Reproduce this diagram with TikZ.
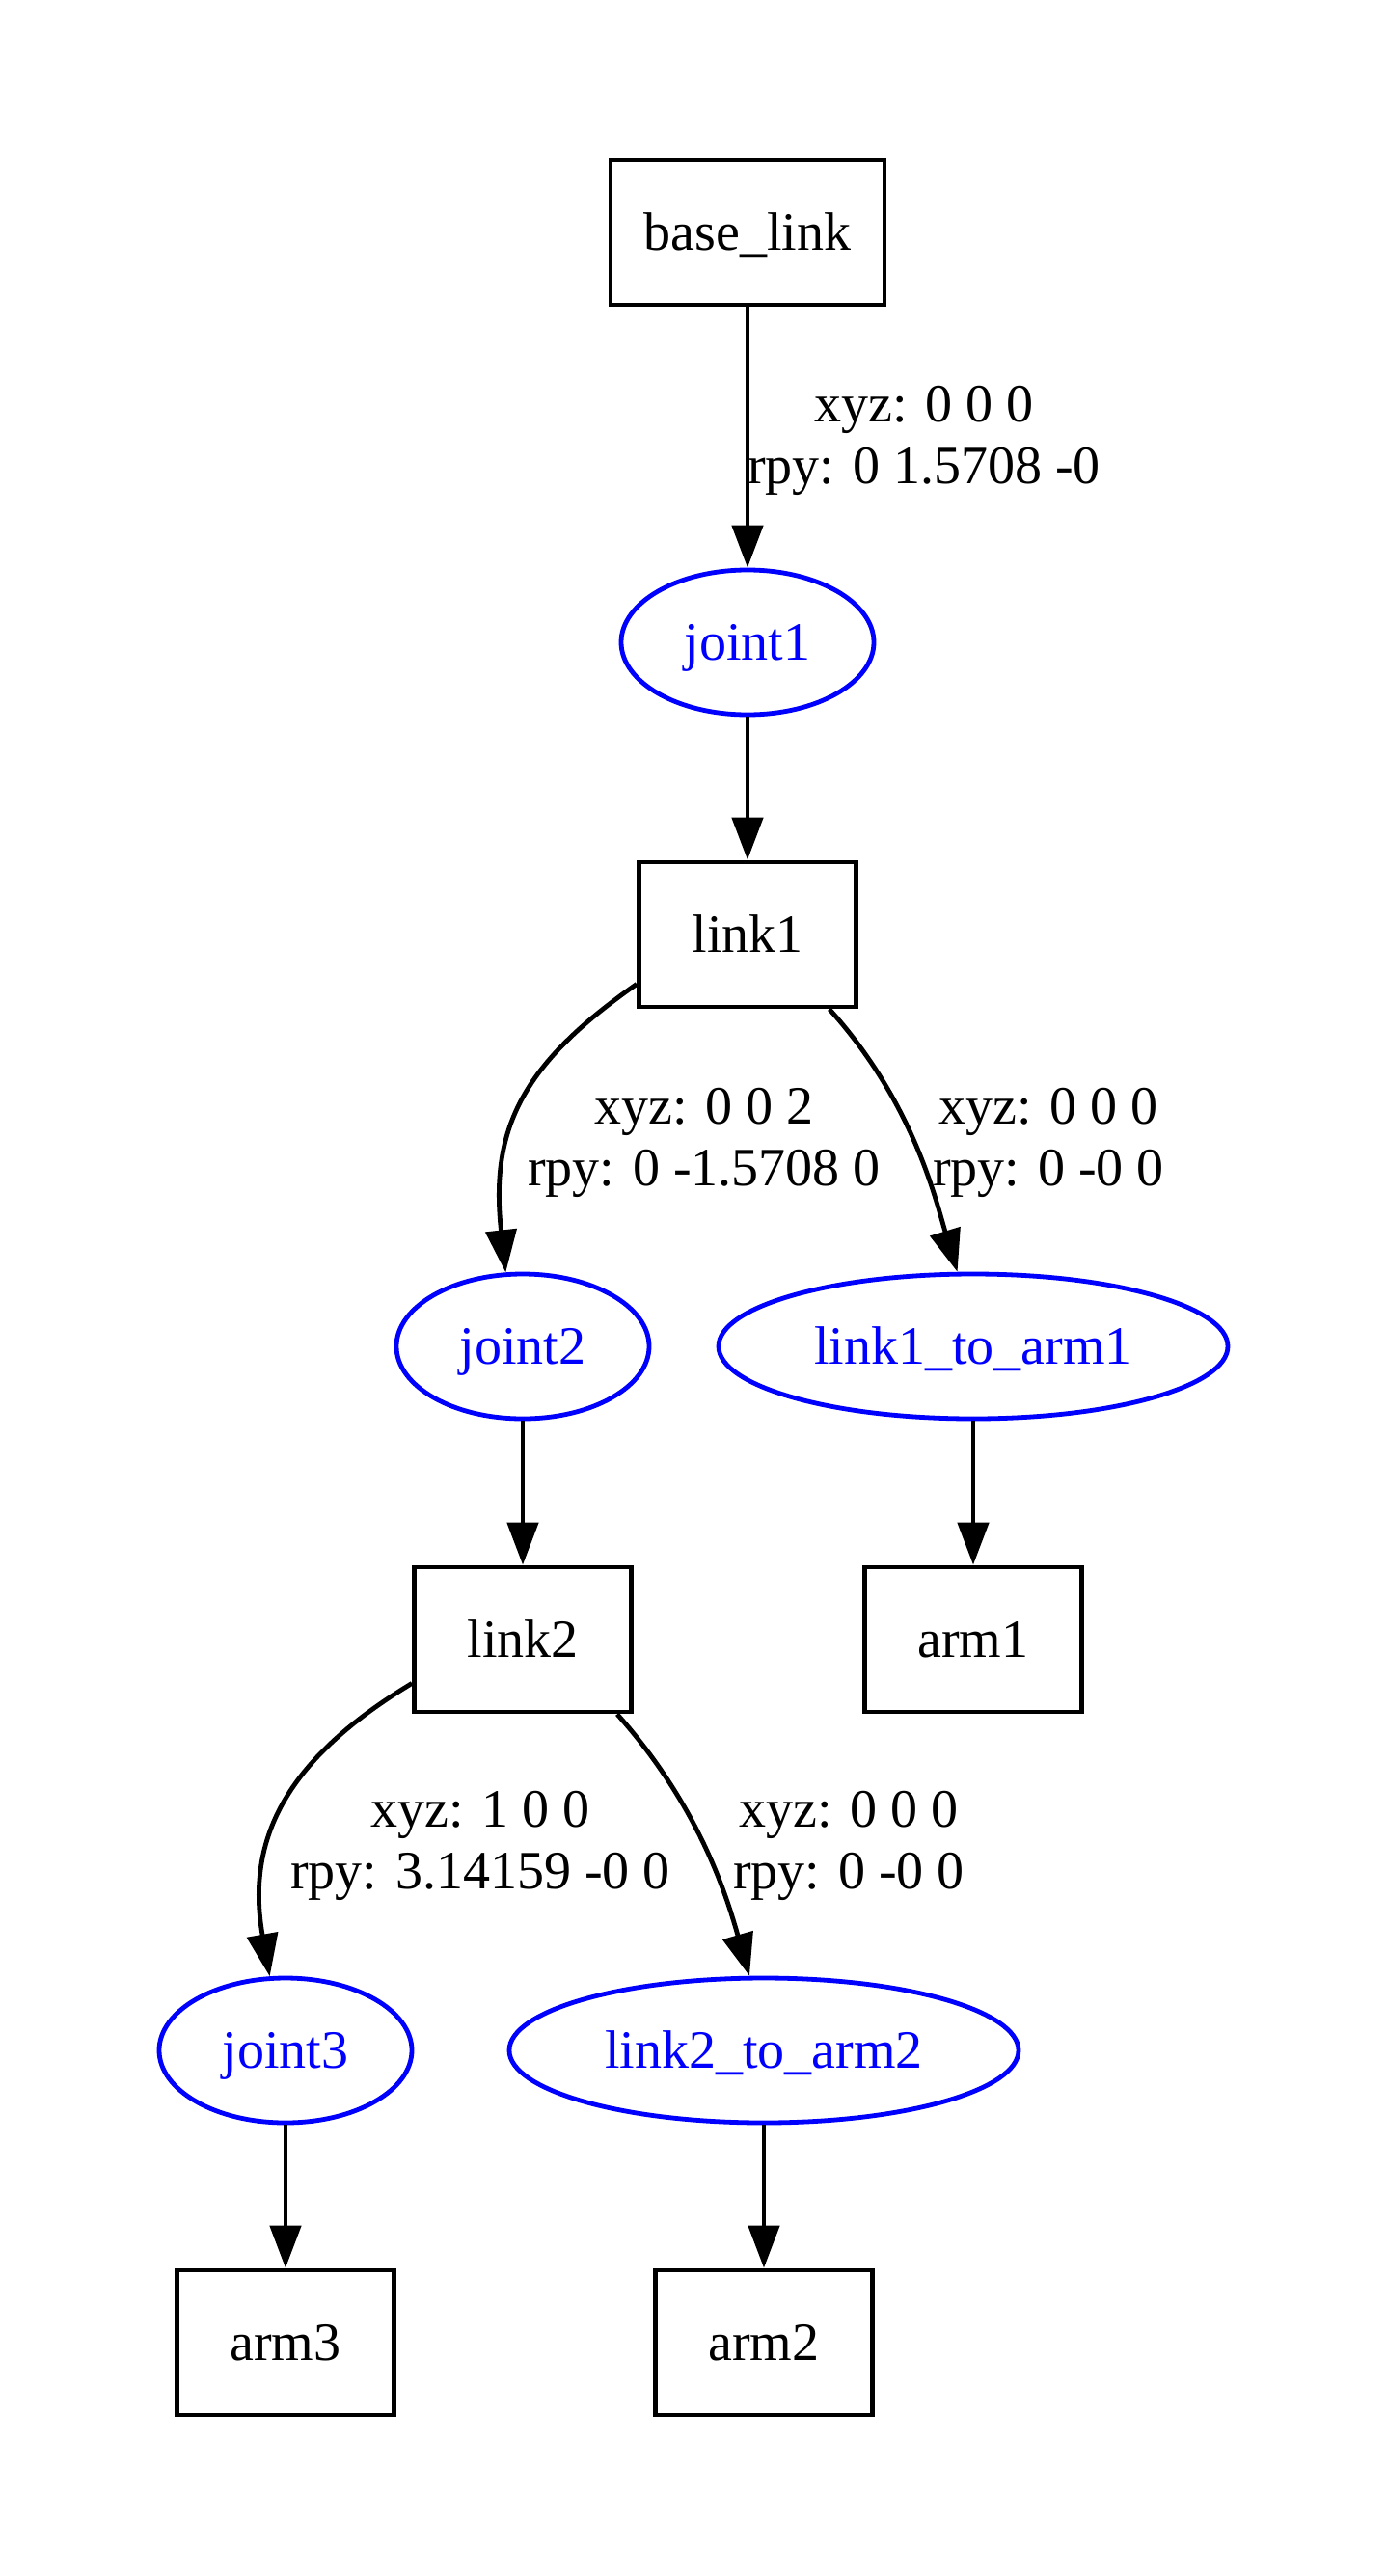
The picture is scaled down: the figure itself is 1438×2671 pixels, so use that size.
\documentclass[tikz,border=0pt]{standalone}
\usepackage{fontspec}
\setmainfont{Liberation Serif}
\usetikzlibrary{arrows.meta,shapes.geometric,calc}
\definecolor{jointblue}{RGB}{0,0,255}

\begin{document}
\begin{tikzpicture}[x=0.5pt,y=-0.5pt,
  every node/.style={font=\fontsize{28}{32}\selectfont},
  linkbox/.style={draw, rectangle, line width=2.4pt, minimum width=112.5pt,
    minimum height=75pt, inner sep=0pt, text height=22pt, text depth=4pt},
  jointell/.style={draw=jointblue, text=jointblue, ellipse, line width=2.4pt,
    minimum width=131pt, minimum height=75pt, inner sep=0pt,
    text height=22pt, text depth=4pt},
  wideell/.style={jointell, minimum width=264pt},
  edge/.style={line width=2.4pt, -{Triangle[length=22pt,width=16pt]}},
  elabel/.style={align=center, inner sep=0pt}]

\useasboundingbox (0,0) rectangle (1438,2671);

% links (boxes) and joints (ellipses)
\node[linkbox, minimum width=142pt] (bl) at (775,241) {base\_link};
\node[jointell] (j1) at (775,666) {joint1};
\node[linkbox] (l1) at (775,969) {link1};
\node[jointell] (j2) at (542,1396) {joint2};
\node[wideell] (la1) at (1009,1396) {link1\_to\_arm1};
\node[linkbox] (l2) at (542,1700) {link2};
\node[linkbox] (a1) at (1009,1700) {arm1};
\node[jointell] (j3) at (296,2126) {joint3};
\node[wideell] (la2) at (792,2126) {link2\_to\_arm2};
\node[linkbox] (a3) at (296,2429) {arm3};
\node[linkbox] (a2) at (792,2429) {arm2};

% transforms on the parent-to-joint edges
\node[elabel] (t1) at (958,457) {xyz: 0 0 0\\rpy: 0 1.5708 -0};
\node[elabel] (t2) at (730,1185) {xyz: 0 0 2\\rpy: 0 -1.5708 0};
\node[elabel] (t3) at (1087,1185) {xyz: 0 0 0\\rpy: 0 -0 0};
\node[elabel] (t4) at (498,1914) {xyz: 1 0 0\\rpy: 3.14159 -0 0};
\node[elabel] (t5) at (880,1914) {xyz: 0 0 0\\rpy: 0 -0 0};

% edges
\draw[edge] (bl) -- (j1);
\draw[edge] (j1) -- (l1);
\draw[edge] ($(l1.south west)+(0,-26)$) .. controls (540,1104) and (508,1172) .. (j2.103);
\draw[edge] ($(l1.south east)+(-30,0)$) .. controls (947,1143) and (970,1244) .. (la1.102);
\draw[edge] (j2) -- (l2);
\draw[edge] (la1) -- (a1);
\draw[edge] ($(l2.south west)+(0,-32)$) .. controls (300,1822) and (254,1904) .. (j3.102);
\draw[edge] ($(l2.south east)+(-17,0)$) .. controls (725,1873) and (753,1965) .. (la2.101);
\draw[edge] (j3) -- (a3);
\draw[edge] (la2) -- (a2);
\end{tikzpicture}
\end{document}
